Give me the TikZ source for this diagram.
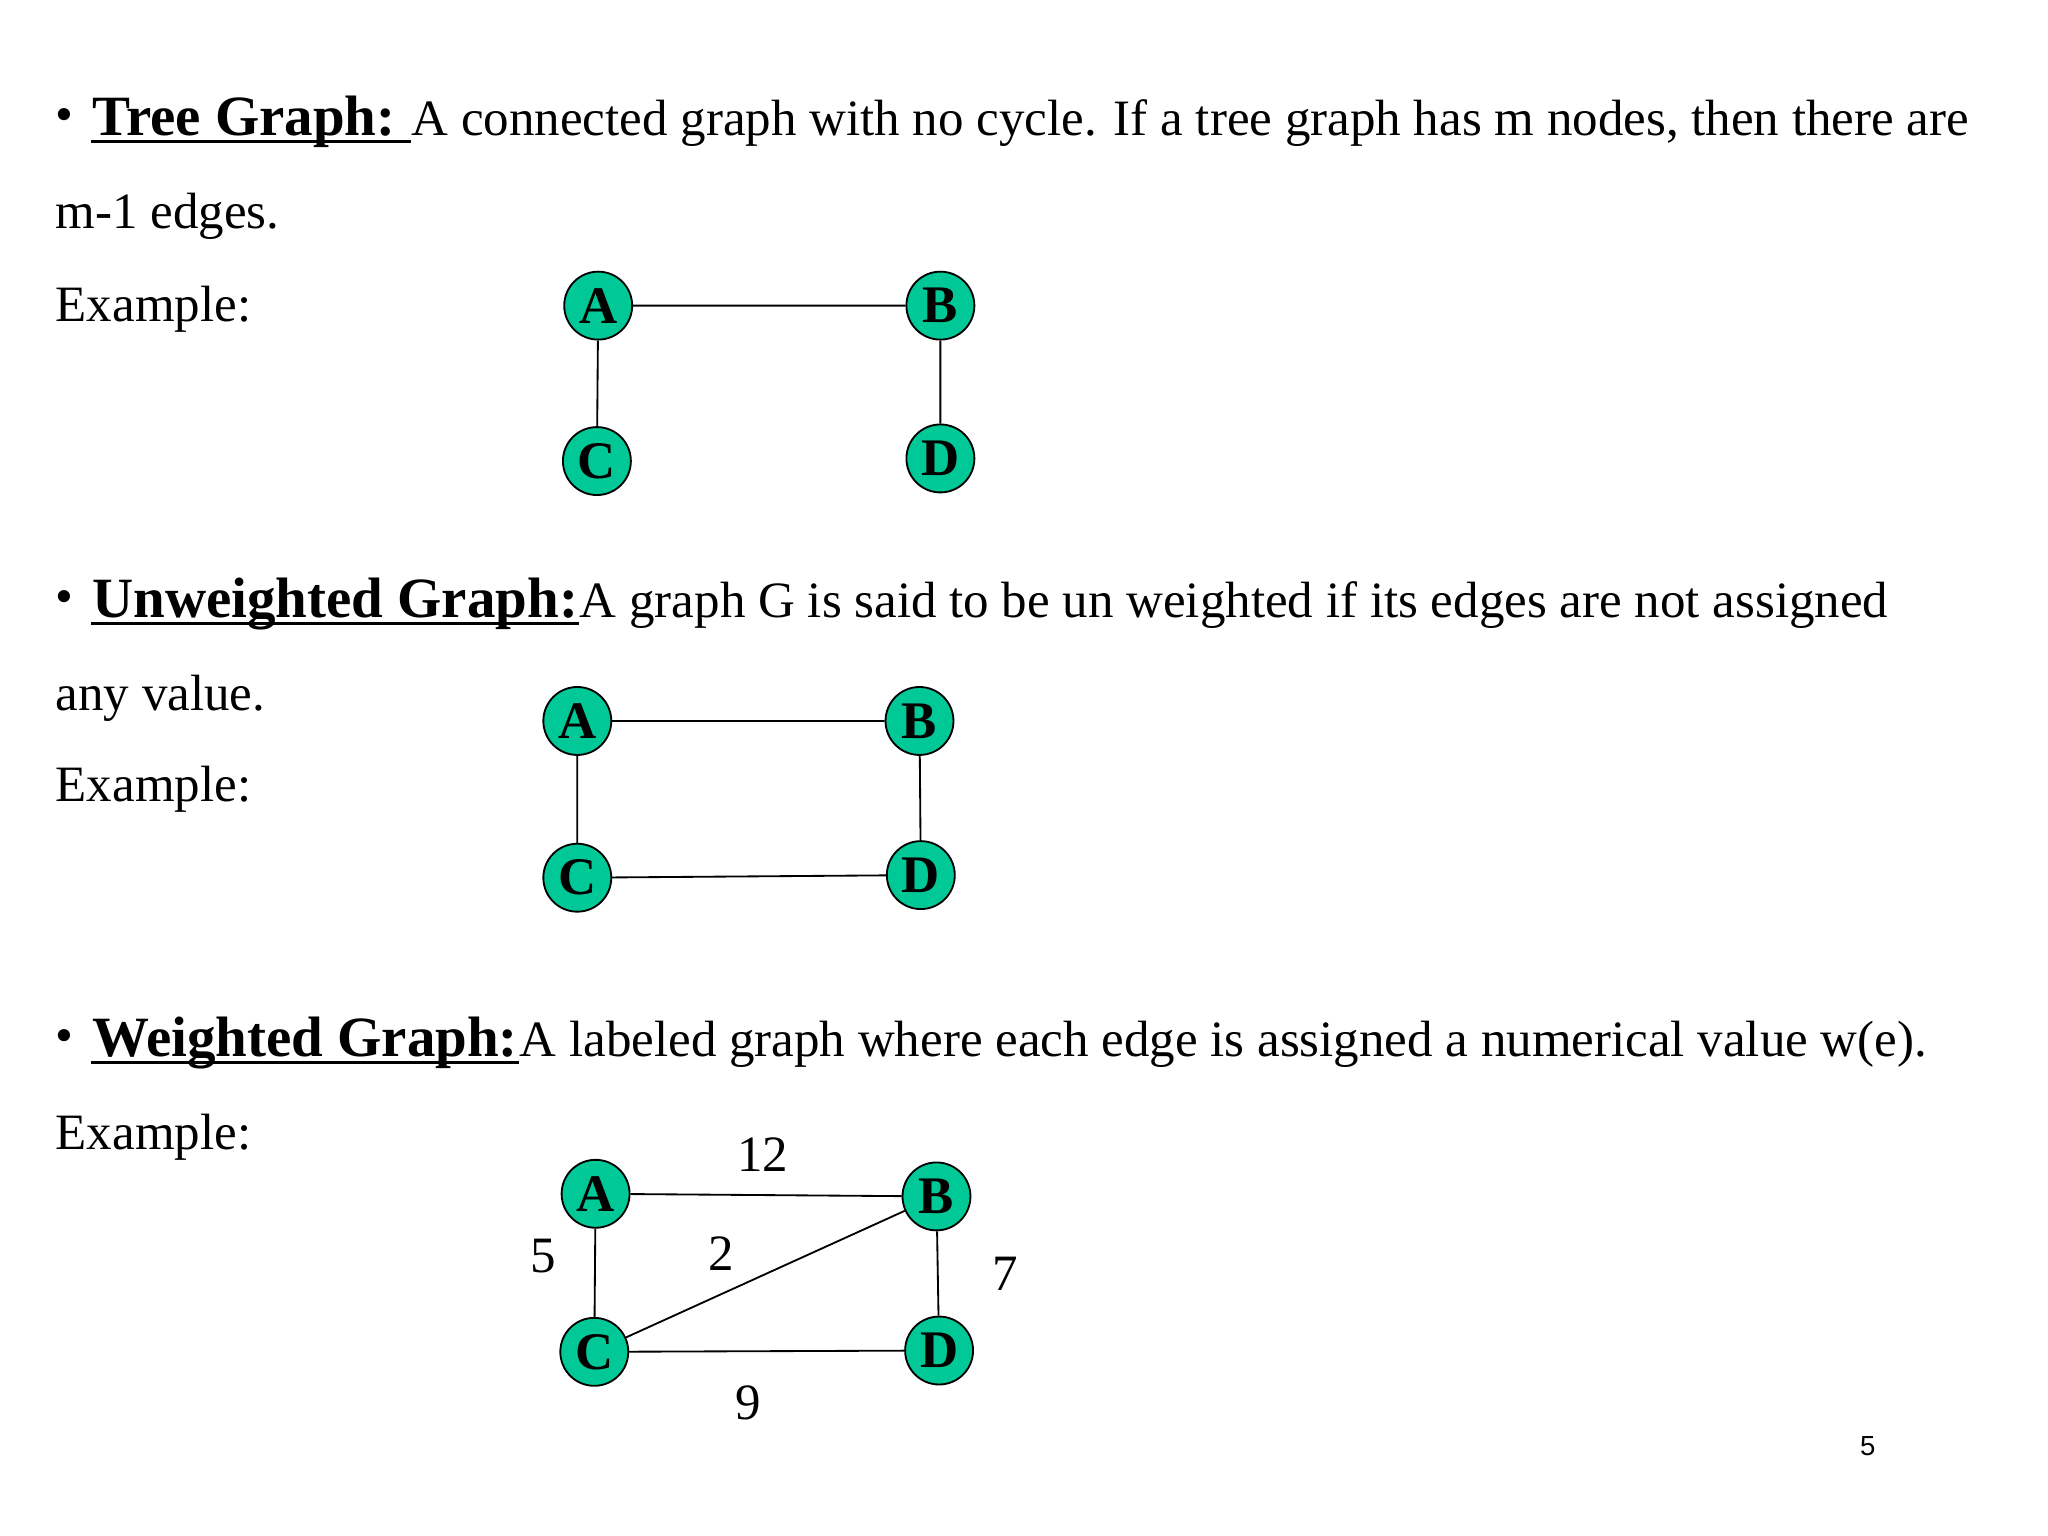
\documentclass[tikz,border=0pt]{standalone}
\usepackage{fontspec}
\setmainfont{Liberation Serif}
\setsansfont{Liberation Sans}
\definecolor{ng}{RGB}{0,200,150}
\begin{document}
\begin{tikzpicture}[x=0.01cm,y=-0.01cm,
 gn/.style={circle,draw=black,fill=ng,minimum size=0.52cm,inner sep=0pt,font=\fontsize{11.5}{12}\selectfont\bfseries},
 txt/.style={anchor=base west,inner sep=0pt,font=\fontsize{11.1}{12}\selectfont},
 hd/.style={anchor=base west,inner sep=0pt,font=\fontsize{12.4}{13}\selectfont\bfseries},
 ul/.style={line width=0.7pt},
 wl/.style={inner sep=0pt,font=\fontsize{11.1}{12}\selectfont}]
\useasboundingbox (0,0) rectangle (1568,1176);
% Tree
\node[txt] (b1) at (42,101) {•};
\node[hd] (h1) at (70,104) {Tree Graph:\ \ };
\draw[ul] ([yshift=-0.045cm]h1.base west) -- ([yshift=-0.045cm]h1.base east);
\node[txt] (t1) at (h1.base east) {A connected graph with no cycle. If a tree graph has m nodes, then there are};
\node[txt] (t1b) at (42,175) {m-1 edges.};
\node[txt] (e1) at (42,246) {Example:};
\node[gn] (A1) at (458,234) {A};
\node[gn] (B1) at (720,234) {B};
\node[gn] (C1) at (457,353) {C};
\node[gn] (D1) at (720,351) {D};
\draw (A1)--(B1) (A1)--(C1) (B1)--(D1);
% Unweighted
\node[txt] (b2) at (42,470) {•};
\node[hd] (h2) at (70,473) {Unweighted Graph:\ };
\draw[ul] ([yshift=-0.045cm]h2.base west) -- ([yshift=-0.045cm]h2.base east);
\node[txt] (t2) at (h2.base east) {A graph G is said to be un weighted if its edges are not assigned};
\node[txt] (t2b) at (42,544) {any value.};
\node[txt] (e2) at (42,614) {Example:};
\node[gn] (A2) at (442,552) {A};
\node[gn] (B2) at (704,552) {B};
\node[gn] (C2) at (442,672) {C};
\node[gn] (D2) at (705,670) {D};
\draw (A2)--(B2) (A2)--(C2) (B2)--(D2) (C2)--(D2);
% Weighted
\node[txt] (b3) at (42,806) {•};
\node[hd] (h3) at (70,809) {Weighted Graph:\ };
\draw[ul] ([yshift=-0.045cm]h3.base west) -- ([yshift=-0.045cm]h3.base east);
\node[txt] (t3) at (h3.base east) {A labeled graph where each edge is assigned a numerical value w(e).};
\node[txt] (e3) at (42,880) {Example:};
\node[gn] (A3) at (456,914) {A};
\node[gn] (B3) at (717,916) {B};
\node[gn] (C3) at (455,1035) {C};
\node[gn] (D3) at (719,1034) {D};
\draw (A3)--(B3) (A3)--(C3) (B3)--(D3) (C3)--(D3) (C3)--(B3);
\node[wl] (w12) at (584,884) {12};
\node[wl] (w5) at (416,962) {5};
\node[wl] (w2) at (552,960) {2};
\node[wl] (w7) at (770,975) {7};
\node[wl] (w9) at (573,1074) {9};
\node[inner sep=0pt,font=\sffamily\fontsize{6}{7}\selectfont] (pg) at (1430,1107) {5};
\end{tikzpicture}
\end{document}
